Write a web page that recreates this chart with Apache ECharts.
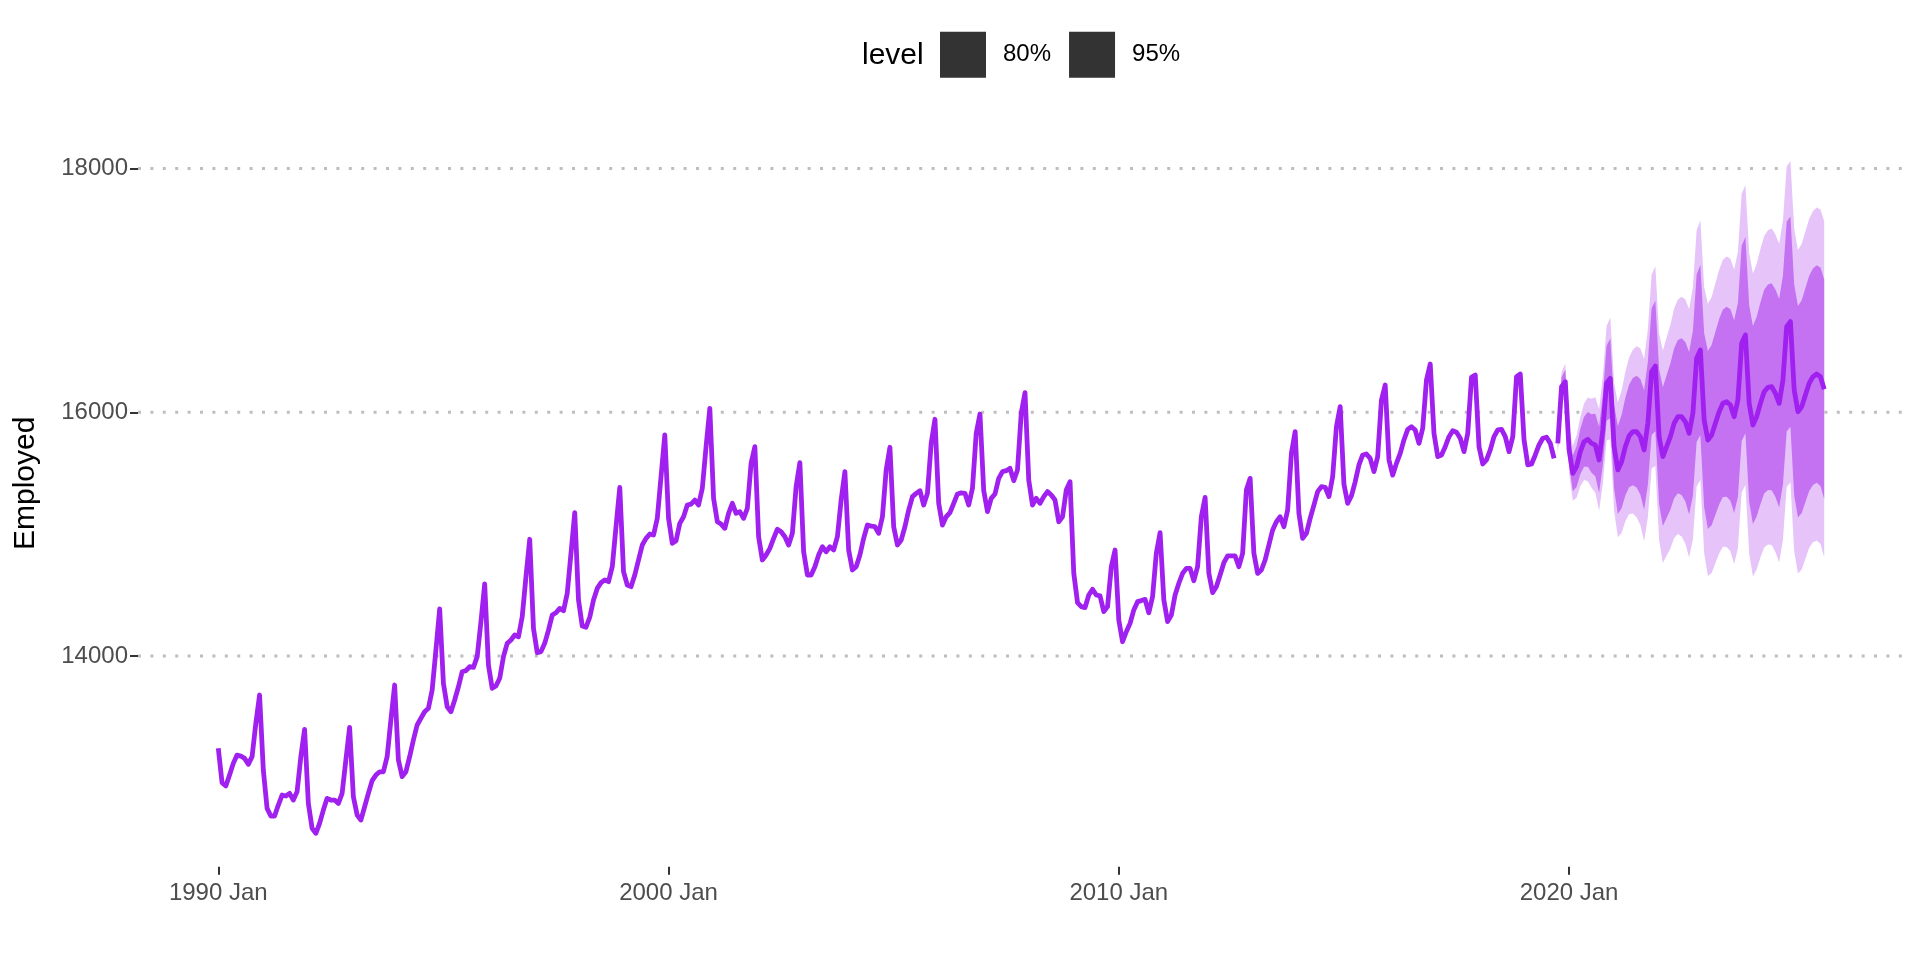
<!DOCTYPE html>
<html>
<head>
<meta charset="utf-8">
<script src="https://cdn.jsdelivr.net/npm/echarts@6/dist/echarts.min.js"></script>
<style>
  html, body { margin: 0; padding: 0; background: #ffffff; }
  #chart { width: 1920px; height: 960px; }
</style>
</head>
<body>
<div id="chart"></div>
<script>
// ---- data (monthly, index 0 = 1990 Jan) ----
const employed1990s = [
  13243, 12960, 12933, 13023, 13119, 13187, 13179, 13160, 13111, 13174, 13447, 13680,
  13064, 12750, 12687, 12687, 12777, 12859, 12851, 12873, 12818, 12887, 13174, 13398,
  12791, 12586, 12545, 12627, 12736, 12832, 12818, 12818, 12791, 12873, 13146, 13415,
  12845, 12695, 12654, 12763, 12873, 12977, 13023, 13050, 13050, 13174, 13475, 13762,
  13146, 13010, 13050, 13174, 13311, 13434, 13489, 13543, 13571, 13721, 14049, 14386,
  13776, 13584, 13543, 13639, 13748, 13871, 13880, 13912, 13907, 13995, 14282, 14591,
  13926, 13735, 13754, 13817, 13995, 14104, 14131, 14172, 14158, 14323, 14651, 14958,
  14227, 14027, 14036, 14104, 14213, 14336, 14355, 14391, 14372, 14514, 14843, 15176,
  14460, 14246, 14236, 14318, 14460, 14555, 14602, 14624, 14610, 14733, 15061, 15384,
  14692, 14583, 14569, 14665, 14788, 14911, 14966, 15001, 14993, 15130, 15472, 15814
];
const employed2000s = [
  15130, 14925, 14946, 15089, 15143, 15239, 15247, 15280, 15239, 15376, 15718, 16033,
  15294, 15102, 15083, 15048, 15171, 15253, 15171, 15185, 15130, 15212, 15581, 15718,
  14979, 14788, 14829, 14884, 14966, 15040, 15020, 14979, 14911, 15007, 15390, 15587,
  14856, 14665, 14665, 14733, 14829, 14897, 14856, 14897, 14870, 14979, 15280, 15513,
  14870, 14706, 14733, 14829, 14966, 15075, 15066, 15061, 15007, 15143, 15527, 15713,
  15061, 14911, 14952, 15061, 15198, 15308, 15335, 15357, 15239, 15335, 15745, 15943,
  15253, 15075, 15143, 15176, 15253, 15330, 15339, 15335, 15239, 15376, 15828, 15986,
  15357, 15185, 15294, 15330, 15458, 15513, 15521, 15540, 15439, 15527, 15992, 16161,
  15444, 15239, 15294, 15253, 15308, 15349, 15321, 15280, 15102, 15143, 15362, 15431,
  14678, 14438, 14405, 14397, 14501, 14547, 14501, 14493, 14364, 14405, 14733, 14870
];
const employed2010s = [
  14295, 14117, 14199, 14268, 14378, 14446, 14455, 14465, 14355, 14487, 14843, 15012,
  14460, 14282, 14336, 14501, 14597, 14678, 14719, 14719, 14618, 14733, 15143, 15302,
  14678, 14520, 14569, 14665, 14766, 14821, 14821, 14821, 14733, 14843, 15362, 15458,
  14843, 14678, 14706, 14788, 14911, 15034, 15102, 15143, 15061, 15198, 15663, 15841,
  15171, 14966, 15007, 15130, 15239, 15349, 15390, 15385, 15308, 15472, 15882, 16046,
  15410, 15253, 15315, 15430, 15568, 15650, 15658, 15622, 15513, 15636, 16101, 16224,
  15609, 15485, 15581, 15663, 15773, 15860, 15882, 15855, 15745, 15869, 16265, 16396,
  15828, 15636, 15650, 15718, 15800, 15849, 15836, 15787, 15677, 15828, 16287, 16306,
  15718, 15576, 15609, 15691, 15800, 15855, 15860, 15800, 15677, 15800, 16292, 16314,
  15773, 15568, 15576, 15650, 15732, 15787, 15795, 15745, 15622
];
// forecast: 2019 Oct .. 2025 Sep
const forecastMean = [
  15745, 16210, 16251,
  15691, 15499, 15554, 15677, 15759, 15778, 15745, 15732, 15609, 15855, 16238, 16279,
  15718, 15527, 15595, 15718, 15806, 15841, 15841, 15800, 15691, 15910, 16333, 16380,
  15800, 15636, 15718, 15800, 15910, 15964, 15964, 15923, 15828, 15992, 16443, 16511,
  15937, 15773, 15814, 15910, 16005, 16074, 16087, 16060, 15964, 16101, 16566, 16634,
  16074, 15896, 15964, 16074, 16169, 16205, 16210, 16156, 16074, 16265, 16703, 16744,
  16183, 16005, 16046, 16142, 16238, 16292, 16314, 16292, 16189
];
// half widths of the intervals
const halfWidth80 = [
  58, 77, 96, 122, 147, 167, 186, 205, 224, 240, 256, 272, 288, 308, 327, 343, 361, 382,
  401, 420, 440, 459, 474, 490, 505, 520, 536, 554, 570, 586, 600, 615, 629, 643, 655, 666,
  677, 687, 697, 714, 731, 741, 751, 761, 770, 779, 786, 791, 796, 801, 805, 807, 813, 820,
  828, 836, 843, 850, 852, 855, 857, 860, 863, 865, 868, 873, 878, 883, 888, 893, 897, 901
];
const halfWidth95 = [
  88, 118, 147, 186, 225, 255, 284, 314, 343, 367, 392, 416, 441, 470, 500, 525, 553, 584,
  613, 643, 672, 702, 725, 749, 772, 796, 819, 847, 872, 896, 917, 941, 962, 984, 1002, 1019,
  1035, 1051, 1066, 1092, 1117, 1133, 1149, 1164, 1178, 1192, 1201, 1209, 1217, 1225, 1231, 1235,
  1243, 1254, 1266, 1278, 1290, 1299, 1303, 1307, 1311, 1315, 1319, 1323, 1327, 1335, 1343, 1350,
  1358, 1366, 1372, 1378
];
const xTickMonths = [0, 120, 240, 360];
const xTickLabels = ['1990 Jan', '2000 Jan', '2010 Jan', '2020 Jan'];
const yTicks = [14000, 16000, 18000];
const levels = ['80%', '95%'];

// ---- build ----
const history = employed1990s.concat(employed2000s, employed2010s);
const histData = history.map((v, i) => [i, v]);
const fcStart = history.length;
const fcMonths = forecastMean.map((_, k) => fcStart + k);
const lastMonth = fcMonths[fcMonths.length - 1];
const xPad = lastMonth * 0.05;
const xMin = -xPad, xMax = lastMonth + xPad;

const fcData = fcMonths.map((m, k) => [m, forecastMean[k]]);
const lo95 = forecastMean.map((v, k) => v - halfWidth95[k]);
const hi95 = forecastMean.map((v, k) => v + halfWidth95[k]);
const lo80 = forecastMean.map((v, k) => v - halfWidth80[k]);
const hi80 = forecastMean.map((v, k) => v + halfWidth80[k]);

function bandSeries(lo, hi, color) {
  return {
    type: 'custom', silent: true, z: 1,
    data: [[fcStart, forecastMean[0]]],
    encode: { x: 0, y: 1 },
    renderItem: function (params, api) {
      const upper = fcMonths.map((m, k) => api.coord([m, hi[k]]));
      const lower = fcMonths.map((m, k) => api.coord([m, lo[k]])).reverse();
      return { type: 'polygon', shape: { points: upper.concat(lower) }, style: { fill: color } };
    }
  };
}

const PURPLE = '#A020F0';
const gridSeries = yTicks.map(v => ({
  type: 'line', data: [[xMin, v], [xMax, v]], symbol: 'none', silent: true, z: 0,
  lineStyle: { color: '#BEBEBE', width: 3, type: [3, 9.4], cap: 'butt' }
}));

const option = {
  animation: false,
  textStyle: { fontFamily: 'Liberation Sans, Arial, sans-serif' },
  grid: { left: 138, right: 15.5, top: 100, bottom: 93.3 },
  legend: {
    data: levels, left: 940, top: 31.7, padding: 0, itemWidth: 46, itemHeight: 46, itemGap: 18,
    icon: 'rect', selectedMode: false,
    textStyle: { fontSize: 24, color: '#000000', padding: [0, 0, 0, 12] }
  },
  graphic: [{
    type: 'text', left: 862, top: 41,
    style: { text: 'level', fontSize: 30, fill: '#000000', fontFamily: 'Liberation Sans, Arial, sans-serif' }
  }],
  xAxis: {
    type: 'value', min: xMin, max: xMax,
    axisLine: { show: false, onZero: false }, splitLine: { show: false },
    axisTick: { show: true, customValues: xTickMonths, length: 8, lineStyle: { color: '#333333', width: 2 } },
    axisLabel: {
      customValues: xTickMonths, fontSize: 24, color: '#4D4D4D', margin: 15,
      formatter: v => { const k = xTickMonths.indexOf(Math.round(v)); return k >= 0 ? xTickLabels[k] : ''; }
    }
  },
  yAxis: {
    type: 'value', min: 12271, max: 18563,
    name: 'Employed', nameLocation: 'middle', nameGap: 97,
    nameTextStyle: { fontSize: 30, color: '#000000' },
    axisLine: { show: false, onZero: false }, splitLine: { show: false },
    axisTick: { show: true, customValues: yTicks, length: 8, lineStyle: { color: '#333333', width: 2 } },
    axisLabel: { customValues: yTicks, fontSize: 24, color: '#4D4D4D', margin: 10, formatter: v => String(v) }
  },
  series: gridSeries.concat([
    bandSeries(lo95, hi95, '#E6C4FA'),
    bandSeries(lo80, hi80, '#C472F2'),
    { type: 'line', data: histData, symbol: 'none', z: 3,
      lineStyle: { color: PURPLE, width: 4.8, join: 'round' } },
    { type: 'line', data: fcData, symbol: 'none', z: 3,
      lineStyle: { color: PURPLE, width: 4.8, join: 'round' } },
    { name: levels[0], type: 'bar', data: [], itemStyle: { color: '#333333' } },
    { name: levels[1], type: 'bar', data: [], itemStyle: { color: '#333333' } }
  ])
};

const chart = echarts.init(document.getElementById('chart'), null, { renderer: 'canvas' });
chart.setOption(option);
</script>
</body>
</html>
